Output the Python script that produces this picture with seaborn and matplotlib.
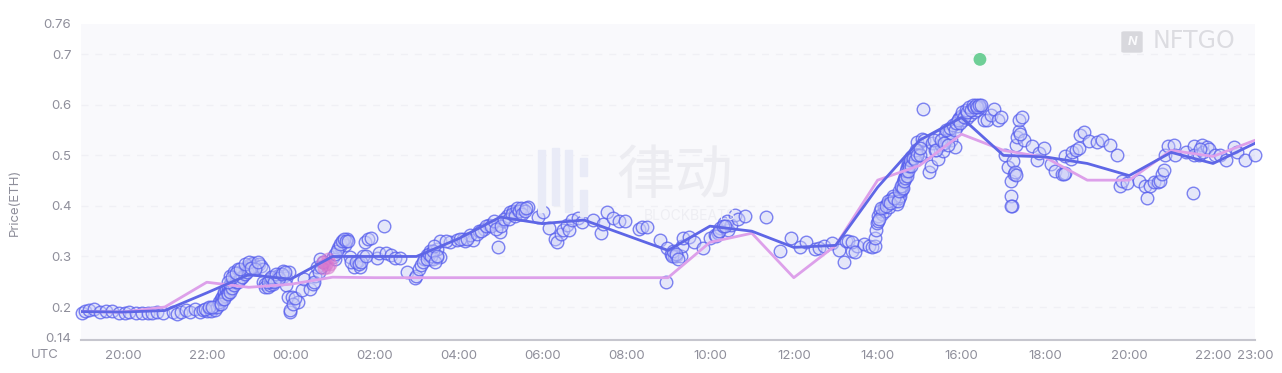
import matplotlib
matplotlib.use("Agg")
import matplotlib.pyplot as plt
from matplotlib.patches import Rectangle, FancyBboxPatch
import pandas as pd
import seaborn as sns

# hours counted from 19:00 on the first day
line_hours = list(range(29))
avg_price = [.191, .190, .193, .228, .264, .255, .300, .300, .300, .335, .378, .365, .372, .342, .312,
             .360, .350, .318, .322, .437, .530, .575, .500, .497, .484, .460, .506, .484, .524]
floor_price = [.191, .190, .200, .249, .239, .245, .259, .258, .258, .258, .258, .258, .258, .258, .258,
               .328, .346, .258, .322, .451, .480, .542, .510, .496, .451, .451, .510, .498, .530]

sale_hours_a = [0.02, 0.1, 0.2, 0.3, 0.45, 0.6, 0.75, 0.9, 1.05, 1.15, 1.3, 1.45, 1.6, 1.7, 1.82, 1.95,
                2.2, 2.3, 2.38, 2.5, 2.6, 2.72, 2.85, 2.92, 3.0, 3.05, 3.1, 3.15, 3.2, 3.25, 3.28, 3.3,
                3.33, 3.36, 3.38, 3.4, 3.42, 3.44, 3.46, 3.48, 3.5, 3.52, 3.55, 3.58, 3.6, 3.62, 3.65, 3.68,
                3.7, 3.72, 3.75, 3.78, 3.8, 3.83, 3.85, 3.88, 3.9, 3.93, 3.95, 3.98, 4.0, 4.03, 4.06, 4.1,
                4.12, 4.18, 4.25, 4.3, 4.35, 3.55, 3.65, 3.75]
sale_prices_a = [.188, .193, .195, .196, .19, .192, .192, .188, .189, .19, .188, .189, .188, .189, .19, .188,
                 .19, .187, .19, .195, .19, .196, .19, .195, .192, .198, .193, .199, .194, .2, .205, .21,
                 .215, .22, .215, .225, .23, .222, .235, .228, .24, .232, .245, .238, .25, .243, .255, .248,
                 .26, .252, .262, .256, .268, .26, .272, .266, .276, .27, .28, .274, .283, .278, .286, .288,
                 .282, .28, .285, .282, .275, .262, .27, .275]

sale_hours_b = [4.35, 4.38, 4.4, 4.45, 4.5, 4.5, 4.55, 4.58, 4.6, 4.62, 4.68, 4.7, 4.75, 4.78, 4.82, 4.85,
                4.88, 4.9, 4.95, 4.98, 4.99, 4.94, 5.03, 5.18, 5.05, 5.1, 5.27, 5.32, 5.45, 5.53, 5.57, 5.62,
                5.55, 5.7, 6.02, 6.14, 6.26, 6.34, 6.3, 6.17, 6.42, 6.5, 6.65, 6.6, 6.72, 6.77, 6.85, 6.92,
                7.05, 7.1, 7.28, 7.4, 7.48, 7.6, 7.23, 7.78, 7.97, 8.0, 8.07, 8.12, 8.17, 8.25, 8.33]
sale_prices_b = [.25, .245, .24, .24, .243, .255, .25, .245, .26, .252, .255, .262, .265, .255, .272, .262,
                 .258, .243, .27, .19, .195, .22, .22, .21, .205, .218, .233, .255, .235, .246, .262, .28,
                 .25, .295, .298, .317, .33, .335, .322, .32, .298, .28, .28, .292, .3, .329, .335, .337,
                 .297, .306, .306, .303, .297, .297, .36, .27, .258, .262, .275, .283, .295, .302, .31]

sale_hours_c = [8.32, 8.4, 8.48, 8.56, 8.5, 8.56, 8.8, 8.96, 9.12, 9.16, 9.35, 9.27, 9.5, 9.6, 9.73, 9.95,
                10.0, 9.94, 10.07, 10.15, 10.24, 10.3, 10.36, 10.42, 10.48, 10.55, 10.66, 10.9, 11.03, 11.15,
                11.3, 11.35, 11.45, 11.5, 11.6, 11.65, 11.7, 11.85, 11.95, 12.21, 12.4, 12.45, 12.55, 12.7,
                12.82, 12.97, 13.3, 13.38, 13.5, 13.8, 13.95, 13.97, 14.07, 14.15, 14.2, 14.3, 14.33, 14.36,
                14.5, 14.62, 14.84, 15.0, 15.12, 15.2, 15.25, 15.33, 15.4, 15.43, 15.5, 15.6, 15.67, 15.83,
                16.33, 16.67, 16.93, 17.16, 17.3, 17.5, 17.6, 17.72, 17.92, 18.08, 18.2, 18.25, 18.3, 18.4,
                18.5]
sale_prices_c = [.295, .295, .298, .298, .315, .33, .328, .332, .335, .33, .332, .342, .35, .355, .362, .365,
                 .348, .318, .37, .38, .388, .39, .386, .39, .384, .393, .397, .379, .387, .356,
                 .335, .328, .345, .352, .363, .353, .373, .377, .369, .373, .347, .365, .387, .376,
                 .37, .37, .355, .358, .358, .333, .249, .316, .305, .3, .3, .3, .32, .337,
                 .339, .328, .316, .337, .343, .347, .357, .367, .37, .352, .362, .382, .375, .38,
                 .379, .31, .337, .318, .328, .315, .317, .32, .326, .313, .29, .33, .33, .31,
                 .32]

sale_hours_d = [18.39, 18.47, 18.67, 18.8, 18.87, 18.93, 18.93, 18.95, 18.98, 19.02, 19.06, 19.1, 19.14, 19.18,
                19.22, 19.27, 19.33, 19.37, 19.42, 19.45, 19.5, 19.53, 19.55, 19.57, 19.58, 19.6, 19.62, 19.65,
                19.67, 19.69, 19.71, 19.73, 19.75, 19.78, 19.8, 19.83, 19.86, 19.9, 19.93, 19.97, 19.94, 20.07,
                20.06, 20.1, 20.23, 20.27, 20.2, 20.3, 20.36, 20.43, 20.47, 20.52, 20.55, 20.6, 20.65, 20.7,
                20.76, 20.84, 20.9, 20.95, 21.0, 21.04, 21.08, 21.12, 21.16, 21.2, 21.25, 21.29, 21.33, 21.37,
                21.4, 21.45, 21.54, 21.62, 21.7, 21.78, 21.87, 21.95]
sale_prices_d = [.328, .308, .325, .32, .318, .32, .336, .353, .367, .38, .39, .385, .397, .39,
                 .404, .398, .414, .42, .41, .404, .415, .42, .43, .434, .44, .447, .453, .46,
                 .465, .473, .478, .487, .482, .49, .496, .49, .5, .503, .498, .507, .526, .591,
                 .532, .53, .468, .48, .508, .525, .51, .492, .537, .52, .508, .54, .53, .545,
                 .53, .516, .558, .574, .578, .57, .58, .574, .585, .58, .592, .586, .595, .59,
                 .598, .595, .57, .57, .58, .591, .571, .575]

sale_hours_e = [22.03, 22.1, 22.17, 22.17, 22.2, 22.19, 22.25, 22.3, 22.33, 22.36, 22.37, 22.44, 22.48, 22.22,
                22.28, 22.31, 22.4, 22.68, 22.8, 22.84, 22.96, 23.14, 23.24, 23.4, 23.48, 23.44, 23.48, 23.6,
                23.64, 23.73, 23.81, 23.83, 23.93, 24.03, 24.23, 24.34, 24.53, 24.71, 24.77, 24.83, 24.95,
                25.24, 25.37, 25.43, 25.5, 25.58, 25.69, 25.74, 25.78, 25.82, 25.86, 25.93, 26.08, 26.1, 26.36,
                26.54, 26.54, 26.53, 26.66, 26.74, 26.75, 26.85, 26.91, 26.7, 27.05, 27.17, 27.3, 27.5, 27.56,
                27.75, 28.0]
sale_prices_e = [.5, .478, .45, .42, .4, .4, .463, .52, .536, .548, .57, .575, .53, .488,
                 .468, .462, .542, .518, .49, .505, .515, .483, .47, .463, .465, .463, .498, .493,
                 .506, .51, .514, .54, .546, .528, .526, .53, .52, .5, .44, .45, .445,
                 .45, .44, .415, .44, .448, .447, .45, .463, .472, .5, .518, .52, .5, .506,
                 .518, .5, .425, .5, .52, .506, .516, .513, .513, .5, .5, .49, .516, .506,
                 .49, .5]

# the dense runs, read a second time
sale_hours_f = [2.95, 3.05, 3.12, 3.35, 3.42, 3.5, 3.55, 3.6, 3.65, 3.7, 3.75, 3.8, 3.85, 3.9, 3.95, 4.0,
                3.5, 3.6, 3.7, 3.8, 3.9, 4.0, 4.05, 4.15, 4.22, 4.45, 4.52, 4.6, 4.65, 4.72, 4.8, 4.87,
                5.68, 5.72, 5.76, 6.05, 6.05, 6.1, 6.18, 6.22, 6.28, 6.32, 6.37, 6.45, 6.55, 6.62, 6.68, 6.8,
                8.15, 8.25, 8.3, 8.35, 8.4, 8.42, 8.45, 8.5, 8.7, 9.05, 9.2, 9.45, 9.55, 9.65, 9.78, 9.85,
                9.9, 10.02, 10.1, 10.2, 10.27, 10.35, 10.4, 10.45, 10.5, 10.52, 10.6, 10.62, 14.1, 14.12, 14.18,
                14.25, 15.15, 15.22, 15.3, 15.36]
sale_prices_f = [.197, .2, .2, .205, .215, .225, .23, .238, .243, .25, .25, .255, .26, .265, .27, .275,
                 .25, .26, .268, .275, .285, .29, .278, .275, .29, .25, .26, .25, .265, .258, .265, .27,
                 .27, .28, .29, .295, .305, .31, .325, .33, .335, .33, .33, .29, .29, .285, .29, .3,
                 .29, .295, .305, .3, .31, .32, .29, .3, .33, .335, .335, .345, .35, .36, .36, .37,
                 .355, .36, .375, .375, .385, .38, .395, .39, .395, .385, .39, .395, .3, .31, .305,
                 .295, .34, .35, .36, .36]
sale_hours_g = [19.0, 19.04, 19.08, 19.2, 19.25, 19.3, 19.4, 19.48, 19.52, 19.56, 19.6, 19.63, 19.66, 19.68,
                19.7, 19.72, 19.74, 19.76, 19.8, 19.85, 19.88, 19.92, 19.95, 20.0, 20.02, 20.35, 20.4, 20.5,
                20.58, 20.62, 20.68, 20.72, 20.8, 20.85, 20.88, 20.92, 20.97, 21.02, 21.06, 21.1, 21.14, 21.18,
                21.22, 21.27, 21.31, 21.35, 21.38, 21.42, 21.47]
sale_prices_g = [.37, .375, .395, .4, .41, .405, .415, .41, .43, .44, .435, .45, .455, .47,
                 .46, .47, .48, .49, .48, .495, .49, .51, .5, .5, .515, .53, .51, .53,
                 .525, .55, .52, .555, .56, .55, .565, .57, .565, .585, .575, .59, .585, .595,
                 .59, .6, .595, .6, .595, .6, .6]

pink_hours = [5.78, 5.84, 5.9, 5.95, 5.88, 5.8]
pink_prices = [.29, .285, .28, .285, .294, .278]
top_hour = [21.44]
top_price = [.69]

y_ticks = [.14, .2, .3, .4, .5, .6, .7, .76]
y_labels = ["0.14", "0.2", "0.3", "0.4", "0.5", "0.6", "0.7", "0.76"]
x_ticks = [1, 3, 5, 7, 9, 11, 13, 15, 17, 19, 21, 23, 25, 27, 28]
x_labels = ["20:00", "22:00", "00:00", "02:00", "04:00", "06:00", "08:00", "10:00", "12:00",
            "14:00", "16:00", "18:00", "20:00", "22:00", "23:00"]

sales = pd.DataFrame({
    "hour": sale_hours_a + sale_hours_b + sale_hours_c + sale_hours_d + sale_hours_e + sale_hours_f + sale_hours_g,
    "price": sale_prices_a + sale_prices_b + sale_prices_c + sale_prices_d + sale_prices_e + sale_prices_f + sale_prices_g,
})
lines = pd.DataFrame({"hour": line_hours, "avg": avg_price, "floor": floor_price})

sns.set_theme(style="white")
plt.rcParams["font.family"] = ["Inter", "DejaVu Sans"]
tick_col = "#8f8f9b"

fig = plt.figure(figsize=(12.82, 3.73), dpi=100)
ax = fig.add_axes([81 / 1282, 33 / 373, 1174 / 1282, 316 / 373])
ax.set_facecolor("#f9f9fc")

# watermarks sit under the data
fig.text(675 / 1282, 1 - 177 / 373, "律动", family="Noto Sans CJK SC", weight="medium", fontsize=42,
         color="#ececf1", ha="center", va="center")
fig.text(690 / 1282, 1 - 216 / 373, "BLOCKBEATS", fontsize=10, color="#eeeef3", ha="center", va="center")
for bx, by, bh in [(538, 150, 62), (552, 148, 57), (565, 150, 62), (580, 158, 18), (580, 190, 26)]:
    fig.patches.append(Rectangle((bx / 1282, 1 - (by + bh) / 373), 7 / 1282, bh / 373, transform=fig.transFigure,
                                 color="#e9ebf7", zorder=0.5))
fig.patches.append(FancyBboxPatch((1122 / 1282, 1 - 52 / 373), 20 / 1282, 20 / 373, transform=fig.transFigure,
                                  boxstyle="round,pad=0,rounding_size=0.002", color="#d8d8dd", zorder=0.5))
fig.text(1132 / 1282, 1 - 42 / 373, "N", weight="bold", style="italic", fontsize=9, color="#fafafc",
         ha="center", va="center")
fig.text(1194 / 1282, 1 - 41 / 373, "NFTGO", family="DejaVu Sans", fontsize=17,
         color="#dcdce1", ha="center", va="center")

sns.scatterplot(data=sales, x="hour", y="price", ax=ax, s=82, clip_on=False, legend=False, zorder=3)
dots = ax.collections[-1]
dots.set_alpha(None)
dots.set_facecolor((0.80, 0.81, 0.97, 0.45))
dots.set_edgecolor((0.33, 0.36, 0.93, 0.75))
dots.set_linewidth(1)
sns.scatterplot(x=pink_hours, y=pink_prices, ax=ax, s=82, legend=False, zorder=3.5)
pinks = ax.collections[-1]
pinks.set_alpha(None)
pinks.set_facecolor((0.85, 0.45, 0.8, 0.4))
pinks.set_edgecolor((0.85, 0.5, 0.82, 0.6))
pinks.set_linewidth(1)
sns.lineplot(data=lines, x="hour", y="floor", ax=ax, color="#dda0ea", linewidth=2, zorder=4)
sns.lineplot(data=lines, x="hour", y="avg", ax=ax, color="#5e66e6", linewidth=2, zorder=5)
sns.scatterplot(x=top_hour, y=top_price, ax=ax, s=85, color="#6fcf97", edgecolor="none", legend=False, zorder=6)

ax.set_xlim(0, 28)
ax.set_ylim(0.1347, 0.7594)
ax.set_xticks(x_ticks)
ax.set_xticklabels(x_labels)
ax.set_yticks(y_ticks)
ax.set_yticklabels(y_labels)
ax.tick_params(axis="both", length=0, labelsize=9.5, labelcolor=tick_col)
ax.tick_params(axis="x", pad=7)
ax.tick_params(axis="y", pad=7)
ax.set_xlabel("")
ax.set_ylabel("")
for g in [.2, .3, .4, .5, .6, .7]:
    ax.axhline(g, color="#f0f0f5", linewidth=1, linestyle=(0, (5, 5)), zorder=1)
sns.despine(ax=ax, left=True, top=True, right=True)
ax.spines["bottom"].set_color("#c6c6ce")
ax.spines["bottom"].set_linewidth(1.5)

fig.text(45 / 1282, 1 - 355 / 373, "UTC", fontsize=9.5, color=tick_col, ha="center", va="center")
fig.text(15 / 1282, 1 - 202 / 373, "Price(ETH)", fontsize=9.5, color=tick_col, rotation=90, ha="center", va="center")

fig.savefig("out.png", dpi=100)
